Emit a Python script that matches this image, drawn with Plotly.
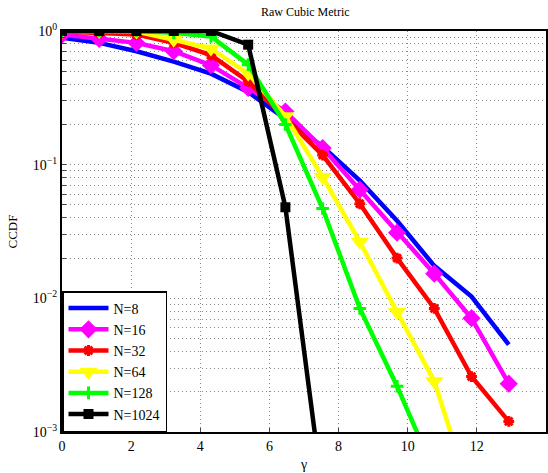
import numpy as np
import plotly.graph_objects as go

# x sample points (gamma)
gamma = [0.0, 1.077, 2.154, 3.231, 4.308, 5.385, 6.462, 7.538, 8.615, 9.692, 10.769, 11.846, 12.923]

ccdf_n8 = [0.89, 0.815, 0.706, 0.59, 0.48, 0.35, 0.22, 0.137, 0.076, 0.038, 0.0175, 0.0103, 0.0045]
ccdf_n16 = [0.94, 0.874, 0.815, 0.706, 0.555, 0.375, 0.25, 0.133, 0.065, 0.031, 0.0153, 0.0071, 0.0023]
ccdf_n32 = [0.99, 0.97, 0.94, 0.815, 0.66, 0.42, 0.225, 0.118, 0.051, 0.020, 0.0084, 0.0026, 0.0012]
ccdf_n64 = [1.0, 1.0, 0.99, 0.86, 0.74, 0.48, 0.23, 0.081, 0.0265, 0.0079, 0.0024, 0.00032]
ccdf_n128 = [1.0, 1.0, 1.0, 0.97, 0.91, 0.56, 0.20, 0.047, 0.0084, 0.0022, 0.0005]
ccdf_n1024 = [1.0, 1.0, 1.0, 1.0, 1.0, 0.79, 0.048, 0.00035]

series = [
    ("N=8", ccdf_n8, "#0000ff", None, 0, 0),
    ("N=16", ccdf_n16, "#ff00ff", "diamond", 14, 0),
    ("N=32", ccdf_n32, "#ff0000", "asterisk-open", 9, 3),
    ("N=64", ccdf_n64, "#ffff00", "triangle-down", 16, 0),
    ("N=128", ccdf_n128, "#00ff00", "cross-thin-open", 9, 3),
    ("N=1024", ccdf_n1024, "#000000", "square", 10, 0),
]

fig = go.Figure()
for name, vals, color, sym, size, lw in series:
    xs = gamma[:len(vals)]
    if sym is None:
        fig.add_trace(go.Scatter(x=xs, y=vals, mode="lines", name=name,
                                 line=dict(color=color, width=4.5)))
    else:
        fig.add_trace(go.Scatter(x=xs, y=vals, mode="lines+markers", name=name,
                                 line=dict(color=color, width=4.5),
                                 marker=dict(symbol=sym, size=size, color=color,
                                             line=dict(color=color, width=lw))))

# log-axis ticks (major + minor grid)
ytickvals = []
yticktext = []
for d in [-3, -2, -1, 0]:
    for k in range(1, 10):
        if d == 0 and k > 1:
            break
        ytickvals.append(k * 10.0 ** d)
        yticktext.append("10<sup>%s</sup>" % (str(d).replace("-", "−")) if k == 1 else "")

xtickvals = [0, 2, 4, 6, 8, 10, 12]

font_family = "Liberation Serif, Times New Roman, serif"

fig.update_layout(
    width=548, height=473,
    margin=dict(l=62, r=0, t=31, b=41),
    paper_bgcolor="white", plot_bgcolor="white",
    font=dict(family=font_family, size=14, color="black"),
    title=dict(text="Raw Cubic Metric", x=0.557, xanchor="center", y=0.975, yanchor="middle",
               font=dict(size=12, family=font_family)),
    showlegend=True,
    legend=dict(x=0, y=0, xanchor="left", yanchor="bottom",
                bgcolor="white", bordercolor="black", borderwidth=1.5,
                font=dict(size=14, family=font_family),
                tracegroupgap=0, itemwidth=40),
)
fig.update_xaxes(
    range=[0, 14], tickvals=xtickvals, ticks="inside", ticklen=4,
    showline=True, linecolor="black", linewidth=2, mirror=True,
    showgrid=True, gridcolor="#888888", griddash="1px,3px", gridwidth=1,
    zeroline=False,
    title=dict(text="γ", standoff=6, font=dict(size=14)),
)
fig.update_yaxes(
    type="log", range=[-3, 0], tickvals=ytickvals, ticktext=yticktext,
    ticks="inside", ticklen=4,
    showline=True, linecolor="black", linewidth=2, mirror=True,
    showgrid=True, gridcolor="#888888", griddash="1px,3px", gridwidth=1,
    zeroline=False,
    title=dict(text="CCDF", standoff=12, font=dict(size=13)),
)

fig.write_html("out.html", config={"displayModeBar": False},
               post_script="document.body.style.margin='0';document.body.style.overflow='hidden';")
